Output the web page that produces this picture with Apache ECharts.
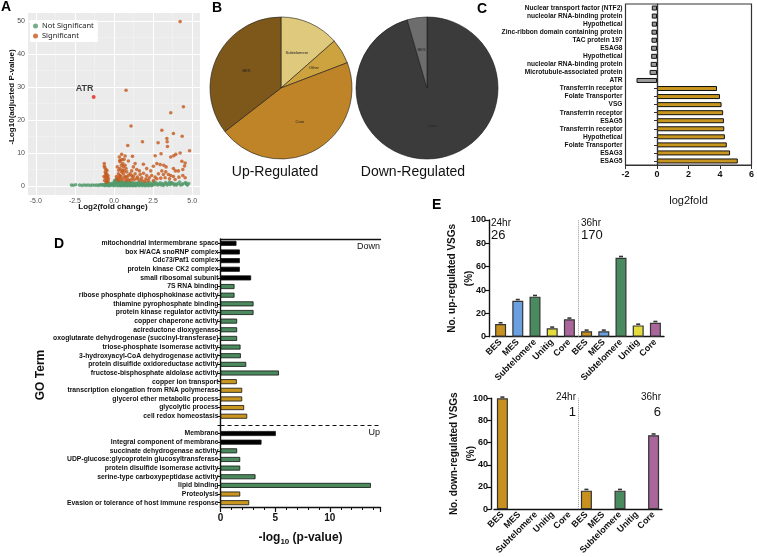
<!DOCTYPE html>
<html><head><meta charset="utf-8">
<script src="https://cdn.jsdelivr.net/npm/echarts@6/dist/echarts.min.js"></script>
<style>html,body{margin:0;padding:0;background:#fff}#c{width:757px;height:557px}</style>
</head><body><div id="c"></div>
<script>
// ---------- Panel A: volcano ----------
const volcanoNotSig = [[-2.72,0.3],[-2.6,0.25],[-2.45,0.4],[-2.2,0.3],[-2.05,0.2],[-1.9,0.35],[-1.78,0.25],[-1.65,0.3],[-1.5,0.2],[-1.38,0.35],[-1.25,0.25],[-1.12,0.3],[-1.0,0.2],[-0.9,0.4],[-0.82,0.3],[-0.75,0.45],[-0.68,0.25],[-0.62,0.5],[-0.56,0.35],[-0.5,0.7],[-0.45,0.9],[-0.4,0.5],[-0.35,0.3],[-0.3,0.6],[-0.25,0.4],[-0.2,0.25],[-0.15,0.5],[-0.1,0.3],[-0.05,0.6],[0.0,0.4],[0.02,0.9],[0.06,1.3],[0.1,1.6],[0.14,1.9],[0.18,1.5],[0.22,1.2],[0.26,0.8],[0.3,1.1],[0.34,0.6],[0.38,0.9],[0.42,0.4],[0.46,0.7],[0.5,0.3],[0.54,0.6],[0.58,0.9],[0.62,0.4],[0.66,0.7],[0.7,0.3],[0.75,0.6],[0.8,0.9],[0.85,0.45],[0.9,0.7],[0.95,0.3],[1.0,0.6],[1.05,0.9],[1.1,0.4],[1.15,0.7],[1.2,0.3],[1.25,0.8],[1.3,0.5],[1.36,0.25],[1.42,0.7],[1.48,0.4],[1.55,0.9],[1.6,0.3],[1.68,0.6],[1.75,0.35],[1.82,0.75],[1.9,0.45],[1.98,0.25],[2.05,0.6],[2.12,0.35],[2.2,0.8],[2.28,0.3],[2.35,0.55],[2.45,0.25],[2.55,0.7],[2.62,0.4],[2.7,0.9],[2.8,0.3],[2.9,0.6],[3.0,0.35],[3.1,0.8],[3.2,0.5],[3.3,1.1],[3.4,0.3],[3.5,0.7],[3.6,0.4],[3.72,0.9],[3.85,0.3],[3.95,0.6],[4.1,0.8],[4.25,0.35],[4.4,0.7],[4.55,0.9],[4.65,0.5],[4.78,0.8],[-0.58,0.15],[-0.3,0.1],[0.0,0.1],[0.2,0.15],[0.4,0.1],[0.6,0.15],[0.8,0.1],[1.0,0.15],[1.2,0.1],[1.4,0.1],[1.6,0.15],[1.8,0.1],[2.0,0.12],[2.2,0.1],[2.4,0.15],[0.12,0.6],[0.32,0.35],[0.52,1.0],[0.72,1.1],[0.92,1.2],[-0.48,1.1],[-0.42,0.2],[0.08,0.3],[0.28,0.2],[0.48,0.2],[0.68,0.2],[0.88,0.2],[1.08,0.2],[1.28,0.2],[1.5,0.6],[1.7,1.0],[2.6,1.2],[3.65,1.0],[4.2,1.2],[4.6,1.0],[0.04,1.7],[0.16,1.2],[0.24,1.5],[0.36,1.3],[0.44,1.1],[0.56,1.3],[0.64,1.0],[0.78,1.3],[0.98,1.0],[1.18,1.1],[1.38,0.9],[1.58,1.2],[1.78,0.6],[1.95,0.9],[2.15,1.1],[2.32,0.9],[2.5,1.0],[2.75,0.6],[2.95,1.0],[3.15,0.2],[3.35,0.7],[3.55,1.2],[3.8,0.7],[4.0,0.3],[4.35,0.4],[4.7,0.3],[-0.52,0.4],[-0.38,0.8],[-0.22,0.7],[-0.08,0.9]];
const volcanoSig = [[4.23,49.8],[0.77,29.0],[4.44,24.0],[3.63,22.2],[1.09,18.2],[3.06,16.9],[3.80,15.9],[4.36,15.1],[3.38,14.4],[3.40,13.4],[1.82,13.4],[2.82,13.1],[0.88,12.3],[3.42,12.0],[4.83,10.7],[3.01,9.8],[3.82,9.2],[3.63,8.8],[3.95,9.6],[4.23,10.0],[0.49,9.6],[0.71,9.1],[1.18,9.0],[2.63,9.2],[4.34,7.5],[4.55,7.0],[4.51,6.1],[0.64,8.1],[0.38,7.8],[0.92,7.6],[1.35,6.8],[1.88,6.6],[2.74,6.8],[2.95,6.5],[3.18,6.3],[3.33,5.8],[2.52,6.0],[3.80,5.3],[3.93,4.6],[4.12,4.6],[4.40,5.0],[2.09,5.3],[1.62,4.6],[2.35,4.6],[3.06,4.6],[3.31,4.3],[2.84,3.7],[3.16,3.5],[3.48,3.5],[3.63,3.2],[1.88,3.9],[2.09,3.2],[2.41,3.2],[2.63,2.7],[3.80,2.9],[4.15,2.7],[4.40,3.2],[4.55,2.5],[1.24,5.8],[1.45,5.0],[1.67,3.5],[1.13,4.6],[1.35,3.7],[1.50,2.7],[1.77,2.5],[2.05,2.2],[2.26,2.5],[2.74,2.2],[2.99,2.4],[3.27,2.5],[3.55,2.2],[3.91,2.0],[2.20,1.7],[2.52,1.7],[-0.62,6.8],[-0.58,5.5],[-0.51,5.0],[-0.56,4.3],[-0.47,3.7],[-0.51,3.2],[-0.43,2.7],[-0.56,2.5],[-0.47,1.9],[-0.38,1.5],[-0.60,1.7],[-0.36,2.2],[-0.49,1.2],[-0.64,2.9],[-0.38,3.1],[-0.53,3.7],[-0.45,4.7],[-0.62,6.0],[0.21,5.8],[0.30,4.8],[0.38,5.3],[0.47,6.3],[0.56,6.8],[0.60,5.8],[0.71,6.3],[0.77,5.3],[0.28,3.7],[0.38,3.2],[0.49,4.3],[0.60,3.7],[0.71,2.9],[0.81,4.3],[0.92,3.2],[1.03,3.7],[0.17,2.2],[0.28,1.7],[0.38,2.2],[0.51,1.9],[0.64,2.4],[0.77,1.7],[0.90,2.0],[1.03,1.7],[1.15,2.2],[1.28,1.9],[0.15,2.9],[0.32,2.7],[0.45,2.9],[0.53,4.8],[0.64,4.6],[0.81,2.7],[1.13,3.2],[1.24,2.9],[1.45,2.2],[1.62,1.9],[1.79,1.7],[1.97,1.5],[0.38,7.4],[0.51,8.0],[0.34,8.8]];
const volcanoATR = [[-1.3, 27.0]];
const volcanoXTicks = [-5, -2.5, 0, 2.5, 5];
const volcanoXMinor = [-3.75, -1.25, 1.25, 3.75];
const volcanoYTicks = [0, 10, 20, 30, 40, 50];
const volcanoYMinor = [5, 15, 25, 35, 45];

// ---------- Panel B: pies ----------
const upPieCats = ['Subtelomere', 'Other', 'Core', 'BES'];
const upPieVals = [13.5, 5.7, 45.3, 35.5];
const downPieCats = ['Core', 'BES'];
const downPieVals = [95.5, 4.5];

// ---------- Panel C: log2fold ----------
const cGenes = ['Nuclear transport factor (NTF2)','nucleolar RNA-binding protein','Hypothetical','Zinc-ribbon domain containing protein','TAC protein 197','ESAG8','Hypothetical','nucleolar RNA-binding protein','Microtubule-associated protein','ATR','Transferrin receptor','Folate Transporter','VSG','Transferrin receptor','ESAG5','Transferrin receptor','Hypothetical','Folate Transporter','ESAG3','ESAG5'];
const cValues = [-0.33,-0.33,-0.33,-0.35,-0.35,-0.37,-0.37,-0.40,-0.47,-1.30,3.81,4.00,4.10,4.20,4.25,4.27,4.31,4.43,4.64,5.13];

// ---------- Panel D: GO terms ----------
const dTerms = ['mitochondrial intermembrane space','box H/ACA snoRNP complex','Cdc73/Paf1 complex','protein kinase CK2 complex','small ribosomal subunit','7S RNA binding','ribose phosphate diphosphokinase activity','thiamine pyrophosphate binding','protein kinase regulator activity','copper chaperone activity','acireductone dioxygenase','oxoglutarate dehydrogenase (succinyl-transferase)','triose-phosphate isomerase activity','3-hydroxyacyl-CoA dehydrogenase activity','protein disulfide oxidoreductase activity','fructose-bisphosphate aldolase activity','copper ion transport','transcription elongation from RNA polymerase','glycerol ether metabolic process','glycolytic process','cell redox homeostasis',' ','Membrane','Integral component of membrane','succinate dehydrogenase activity','UDP-glucose:glycoprotein glucosyltransferase','protein disulfide isomerase activity','serine-type carboxypeptidase activity','lipid binding','Proteolysis','Evasion or tolerance of host immune response'];
const dValues = [1.46,1.77,1.77,1.77,2.80,1.28,1.28,3.02,3.02,1.52,1.52,1.52,1.83,1.86,2.35,5.34,1.49,1.98,1.98,2.16,2.44,null,5.06,3.75,1.52,1.80,1.80,3.20,13.75,1.80,2.62];
const dClass = ['CC','CC','CC','CC','CC','MF','MF','MF','MF','MF','MF','MF','MF','MF','MF','MF','BP','BP','BP','BP','BP','','CC','CC','MF','MF','MF','MF','MF','BP','BP'];
const dSections = ['Down', 'Up'];

// ---------- Panel E: VSG location ----------
const eCats = ['BES','MES','Subtelomere','Unitig','Core','BES','MES','Subtelomere','Unitig','Core'];
const eUpValues = [10.9,30.8,34.3,7.2,14.9,4.6,4.6,67.7,9.7,12.0];
const eDownValues = [100,0,0,0,0,16.7,0,16.7,0,66.7];
const eTimes = ['24hr','36hr'];
const eUpCounts = ['26','170'];
const eDownCounts = ['1','6'];

// ---------- styles ----------
const FF = "'Liberation Sans', Arial, sans-serif";
const upPieColors = {Subtelomere:'#dfc97d', Other:'#cca33f', Core:'#bf8427', BES:'#7e571b'};
const downPieColors = {Core:'#3b3b3b', BES:'#6d6d6d'};
const dColors = {CC:'#000000', MF:'#4a8a5c', BP:'#c9961f'};
const eColors = {BES:'#c8901f', MES:'#6a9fe0', Subtelomere:'#4a8a5f', Unitig:'#e4dc3c', Core:'#a8669a'};

const chart = echarts.init(document.getElementById('c'), null, {renderer:'canvas'});

const gridLineData = [].concat(
  volcanoXMinor.map(v => ({xAxis:v, lineStyle:{color:'#f4f4f4', width:0.6, type:'solid'}})),
  volcanoYMinor.map(v => ({yAxis:v, lineStyle:{color:'#f4f4f4', width:0.6, type:'solid'}})),
  volcanoXTicks.map(v => ({xAxis:v, lineStyle:{color:'#ffffff', width:1.1, type:'solid'}})),
  volcanoYTicks.map(v => ({yAxis:v, lineStyle:{color:'#ffffff', width:1.1, type:'solid'}}))
);

const axisBlack = {show:true, lineStyle:{color:'#111', width:1.4}};
const eYAxisLine = {show:true, onZero:false, lineStyle:{color:'#111', width:1.4}};

const option = {
  animation: false,
  textStyle: {fontFamily: FF},
  legend: {
    data: ['Not Significant', 'Significant'],
    left: 30, top: 20, orient: 'vertical',
    itemWidth: 5, itemHeight: 5, itemGap: 2,
    itemStyle: {borderWidth: 0},
    backgroundColor: '#fff', padding: [2, 4, 2, 3],
    textStyle: {fontSize: 7.5, color: '#222', fontFamily: "'Noto Sans', 'DejaVu Sans', sans-serif", padding:[0,0,0,-1]}
  },
  grid: [
    {left: 28, top: 13, width: 172, height: 182, show: true, backgroundColor: '#ebebeb', borderWidth: 0},
    {left: 625.5, top: 4, width: 129.5, height: 161, show: true, borderColor: '#333', borderWidth: 1.2},
    {left: 220.5, top: 239, width: 160, height: 268},
    {left: 492, top: 220, width: 172, height: 116.7},
    {left: 494, top: 398.3, width: 168, height: 111.7}
  ],
  xAxis: [
    {gridIndex:0, type:'value', min:-5.5, max:5.5,
      axisLine:{show:false}, splitLine:{show:false},
      axisTick:{show:true, customValues: volcanoXTicks, length:2, lineStyle:{color:'#444'}},
      axisLabel:{customValues: volcanoXTicks, formatter: v => Number(v).toFixed(1), fontSize:7, color:'#4d4d4d', margin:3}},
    {gridIndex:1, type:'value', min:-2, max:6, interval:2,
      axisLine:{show:true, lineStyle:{color:'#333', width:1.2}},
      axisTick:{show:true, length:4, lineStyle:{color:'#333'}},
      axisLabel:{fontWeight:'bold', fontSize:9, color:'#111', margin:5},
      splitLine:{show:false},
      name:'log2fold', nameLocation:'middle', nameGap:30,
      nameTextStyle:{fontSize:11, color:'#111'}},
    {gridIndex:2, type:'value', min:0, max:14.63, interval:5,
      axisLine: axisBlack,
      axisTick:{show:true, length:5, lineStyle:{color:'#111', width:1.2}},
      minorTick:{show:true, splitNumber:5, length:3, lineStyle:{color:'#111', width:1}},
      axisLabel:{fontWeight:'bold', fontSize:10, color:'#111', margin:6, showMaxLabel:false,
        formatter: v => (Math.abs(v % 5) < 1e-9 ? String(v) : '')},
      splitLine:{show:false},
      name:'{n|-log}{s|10}{n| (p-value)}', nameLocation:'middle', nameGap:23,
      nameTextStyle:{rich:{
        n:{fontSize:12, fontWeight:'bold', color:'#111', lineHeight:16, fontFamily:FF},
        s:{fontSize:8, fontWeight:'bold', color:'#111', lineHeight:16, padding:[8,0,0,0], fontFamily:FF}}}},
    {gridIndex:2, type:'value', position:'top', min:0, max:14.63,
      axisLine: axisBlack, axisTick:{show:false}, axisLabel:{show:false}, splitLine:{show:false}},
    {gridIndex:3, type:'category', data:eCats,
      axisLine: axisBlack, axisTick:{show:false},
      axisLabel:{interval:0, rotate:45, fontSize:9, fontWeight:'bold', color:'#111', margin:4}},
    {gridIndex:3, type:'value', min:-0.5, max:9.5, show:false},
    {gridIndex:4, type:'category', data:eCats,
      axisLine: axisBlack, axisTick:{show:false},
      axisLabel:{interval:0, rotate:45, fontSize:9, fontWeight:'bold', color:'#111', margin:4}},
    {gridIndex:4, type:'value', min:-0.5, max:9.5, show:false}
  ],
  yAxis: [
    {gridIndex:0, type:'value', min:-2.7, max:52.4,
      axisLine:{show:false}, splitLine:{show:false},
      axisTick:{show:true, customValues: volcanoYTicks, length:2, lineStyle:{color:'#444'}},
      axisLabel:{customValues: volcanoYTicks, fontSize:7, color:'#4d4d4d', margin:3}},
    {gridIndex:1, type:'category', inverse:true, data:cGenes,
      axisLine:{show:true, lineStyle:{color:'#333', width:1.2}},
      axisTick:{show:true, length:3, alignWithLabel:true, interval:0, lineStyle:{color:'#333'}},
      axisLabel:{interval:0, fontSize:6.6, fontWeight:'bold', color:'#111', margin:3}},
    {gridIndex:2, type:'category', inverse:true, data:dTerms,
      axisLine: axisBlack,
      axisTick:{show:true, length:3, alignWithLabel:true, interval:0, lineStyle:{color:'#111', width:1}},
      axisLabel:{interval:0, fontSize:6.8, fontWeight:'bold', color:'#111', margin:2}},
    {gridIndex:3, type:'value', min:0, max:100, interval:20, offset:3,
      axisLine: eYAxisLine,
      axisTick:{show:true, length:4, lineStyle:{color:'#111', width:1.2}},
      axisLabel:{fontSize:9, fontWeight:'bold', color:'#111', margin:3},
      splitLine:{show:false},
      name:'No. up-regulated VSGs\n(%)', nameLocation:'middle', nameGap:11, nameMoveOverlap:false,
      nameTextStyle:{fontSize:10, fontWeight:'bold', color:'#111', lineHeight:17}},
    {gridIndex:4, type:'value', min:0, max:100, interval:20, offset:3,
      axisLine: eYAxisLine,
      axisTick:{show:true, length:4, lineStyle:{color:'#111', width:1.2}},
      axisLabel:{fontSize:9, fontWeight:'bold', color:'#111', margin:3},
      splitLine:{show:false},
      name:'No. down-regulated VSGs\n(%)', nameLocation:'middle', nameGap:11, nameMoveOverlap:false,
      nameTextStyle:{fontSize:10, fontWeight:'bold', color:'#111', lineHeight:17}}
  ],
  series: [
    {type:'line', xAxisIndex:0, yAxisIndex:0, data:[], z:1, silent:true,
      markLine:{silent:true, z:1, symbol:'none', label:{show:false}, data: gridLineData}},
    {name:'Not Significant', type:'scatter', xAxisIndex:0, yAxisIndex:0, data: volcanoNotSig,
      symbolSize:3.6, itemStyle:{color:'#529a6b'}, z:3, silent:true},
    {name:'Significant', type:'scatter', xAxisIndex:0, yAxisIndex:0, data: volcanoSig,
      symbolSize:3.6, itemStyle:{color:'#c4591c'}, z:4, silent:true},
    {name:'ATR', type:'scatter', xAxisIndex:0, yAxisIndex:0, data: volcanoATR,
      symbolSize:4, itemStyle:{color:'#e3221c'}, z:5, silent:true,
      label:{show:true, formatter:'ATR', position:'top', offset:[-9,3], fontSize:9, fontWeight:'bold', color:'#111'}},
    {type:'pie', center:[281, 88], radius:71, startAngle:90, clockwise:true, silent:true,
      data: upPieCats.map((n, i) => ({name:n, value:upPieVals[i], itemStyle:{color:upPieColors[n]}})),
      label:{show:true, position:'inside', formatter:'{b}', fontSize:4, color:'#222'},
      labelLine:{show:false}, itemStyle:{borderColor:'#1a1a1a', borderWidth:0.6}},
    {type:'pie', center:[427, 88], radius:71, startAngle:90, clockwise:true, silent:true,
      data: downPieCats.map((n, i) => ({name:n, value:downPieVals[i], itemStyle:{color:downPieColors[n]}})),
      label:{show:true, position:'inside', formatter:'{b}', fontSize:4, color:'#222'},
      labelLine:{show:false}, itemStyle:{borderColor:'#1a1a1a', borderWidth:0.6}},
    {type:'bar', xAxisIndex:1, yAxisIndex:1, barWidth:5, silent:true,
      data: cValues.map(v => ({value:v, itemStyle:{color: v < 0 ? '#9b9b9b' : '#c8961f'}})),
      itemStyle:{borderColor:'#111', borderWidth:1},
      markLine:{silent:true, symbol:'none', label:{show:false}, lineStyle:{color:'#333', width:1.2, type:'solid'}, data:[{xAxis:0}]}},
    {type:'bar', xAxisIndex:2, yAxisIndex:2, barWidth:5, silent:true,
      data: dValues.map((v, i) => v === null ? '-' : ({value:v, itemStyle:{color: dColors[dClass[i]]}})),
      itemStyle:{borderColor:'#111', borderWidth:0.8},
      markLine:{silent:true, symbol:'none', label:{show:false}, lineStyle:{color:'#111', width:1, type:[4,3]}, data:[{yAxis:21}]}},
    {type:'bar', xAxisIndex:4, yAxisIndex:3, barWidth:11, silent:true,
      data: eUpValues.map((v, i) => ({value:v, itemStyle:{color: eColors[eCats[i]]}})),
      itemStyle:{borderColor:'#333', borderWidth:1.2}},
    {type:'scatter', xAxisIndex:4, yAxisIndex:3, silent:true, symbol:'rect', symbolSize:[4,1.6], symbolOffset:[0,-1.2],
      data: eUpValues.map(v => v > 0 ? v : '-'), itemStyle:{color:'#000'}, z:5},
    {type:'line', xAxisIndex:5, yAxisIndex:3, data:[], silent:true,
      markLine:{silent:true, symbol:'none', label:{show:false}, lineStyle:{color:'#999', width:1, type:'dotted'}, data:[{xAxis:4.5}]}},
    {type:'bar', xAxisIndex:6, yAxisIndex:4, barWidth:11, silent:true,
      data: eDownValues.map((v, i) => v > 0 ? ({value:v, itemStyle:{color: eColors[eCats[i]]}}) : '-'),
      itemStyle:{borderColor:'#333', borderWidth:1.2}},
    {type:'scatter', xAxisIndex:6, yAxisIndex:4, silent:true, symbol:'rect', symbolSize:[4,1.6], symbolOffset:[0,-1.2],
      data: eDownValues.map(v => v > 0 ? v : '-'), itemStyle:{color:'#000'}, z:5},
    {type:'line', xAxisIndex:7, yAxisIndex:4, data:[], silent:true,
      markLine:{silent:true, symbol:'none', label:{show:false}, lineStyle:{color:'#999', width:1, type:'dotted'}, data:[{xAxis:4.5}]}}
  ],
  graphic: [
    {type:'text', left:1, top:0, style:{text:'A', font:'bold 14px ' + FF, fill:'#000'}},
    {type:'text', left:212, top:1, style:{text:'B', font:'bold 14px ' + FF, fill:'#000'}},
    {type:'text', left:477, top:2, style:{text:'C', font:'bold 14px ' + FF, fill:'#000'}},
    {type:'text', left:54, top:237, style:{text:'D', font:'bold 14px ' + FF, fill:'#000'}},
    {type:'text', left:432, top:198, style:{text:'E', font:'bold 14px ' + FF, fill:'#000'}},
    {type:'text', x:113, y:207, style:{text:'Log2(fold change)', font:'bold 8px ' + FF, fill:'#111', align:'center', verticalAlign:'middle'}},
    {type:'text', x:12, y:97, rotation:Math.PI/2, style:{text:'-Log10(adjusted P-value)', font:'bold 8px ' + FF, fill:'#111', align:'center', verticalAlign:'middle'}},
    {type:'text', x:275, y:172, style:{text:'Up-Regulated', font:'14px ' + FF, fill:'#111', align:'center', verticalAlign:'middle'}},
    {type:'text', x:413, y:172, style:{text:'Down-Regulated', font:'14px ' + FF, fill:'#111', align:'center', verticalAlign:'middle'}},
    {type:'text', x:41, y:375, rotation:Math.PI/2, style:{text:'GO Term', font:'bold 12px ' + FF, fill:'#111', align:'center', verticalAlign:'middle'}},
    {type:'text', x:380, y:247, style:{text:dSections[0], font:'9px ' + FF, fill:'#111', align:'right', verticalAlign:'middle'}},
    {type:'text', x:380, y:433, style:{text:dSections[1], font:'9px ' + FF, fill:'#111', align:'right', verticalAlign:'middle'}},
    {type:'text', x:491, y:223, z:100, style:{text:eTimes[0], font:'10px ' + FF, fill:'#111', align:'left', verticalAlign:'middle', backgroundColor:'#fff'}},
    {type:'text', x:491, y:235, z:100, style:{text:eUpCounts[0], font:'13px ' + FF, fill:'#111', align:'left', verticalAlign:'middle', backgroundColor:'#fff'}},
    {type:'text', x:581, y:223, style:{text:eTimes[1], font:'10px ' + FF, fill:'#111', align:'left', verticalAlign:'middle'}},
    {type:'text', x:581, y:235, style:{text:eUpCounts[1], font:'13px ' + FF, fill:'#111', align:'left', verticalAlign:'middle'}},
    {type:'text', x:576, y:397, style:{text:eTimes[0], font:'10px ' + FF, fill:'#111', align:'right', verticalAlign:'middle'}},
    {type:'text', x:576, y:412, style:{text:eDownCounts[0], font:'13px ' + FF, fill:'#111', align:'right', verticalAlign:'middle'}},
    {type:'text', x:661, y:397, style:{text:eTimes[1], font:'10px ' + FF, fill:'#111', align:'right', verticalAlign:'middle'}},
    {type:'text', x:661, y:412, style:{text:eDownCounts[1], font:'13px ' + FF, fill:'#111', align:'right', verticalAlign:'middle'}}
  ]
};
chart.setOption(option);
</script>
</body></html>
